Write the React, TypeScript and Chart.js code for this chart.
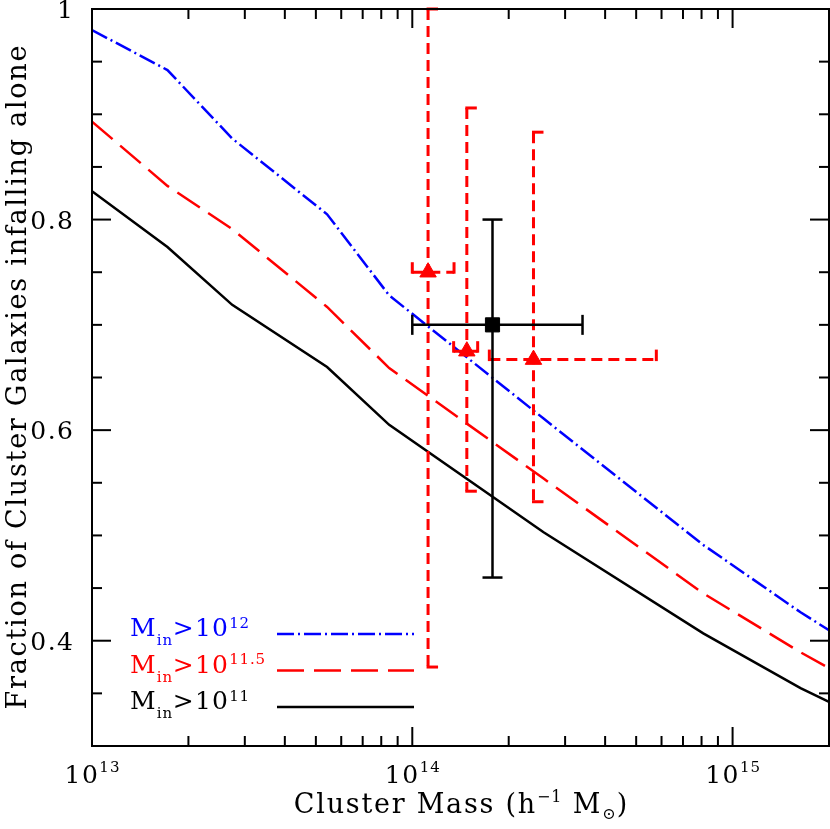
import React, { useEffect, useRef } from 'react';
import { Chart, registerables } from 'chart.js';

Chart.register(...registerables);

// ---------- data ----------
const massGrid = [1e13, 1.72e13, 2.74e13, 5.42e13, 8.47e13, 2.57e14, 8.1e14, 1.63e15, 2e15];
const fracMinIn12 = [0.98, 0.942, 0.877, 0.805, 0.728, 0.611, 0.491, 0.427, 0.41];
const fracMinIn115 = [0.893, 0.832, 0.791, 0.717, 0.659, 0.554, 0.445, 0.389, 0.374];
const fracMinIn11 = [0.827, 0.774, 0.719, 0.66, 0.605, 0.503, 0.407, 0.355, 0.342];

const satMass = [1.12e14, 1.48e14, 2.39e14];
const satFrac = [0.75, 0.675, 0.667];
const satMassLo = [1.0e14, 1.346e14, 1.74e14];
const satMassHi = [1.35e14, 1.6e14, 5.78e14];
const satFracLo = [0.375, 0.542, 0.532];
const satFracHi = [1.0, 0.906, 0.883];

const obsMass = [1.78e14];
const obsFrac = [0.7];
const obsMassLo = [1.0e14];
const obsMassHi = [3.4e14];
const obsFracLo = [0.46];
const obsFracHi = [0.8];

const xRange = [1e13, 2e15];
const yRange = [0.3, 1.0];
const xTickValues = [1e13, 1e14, 1e15];
const xTickBase = ['10', '10', '10'];
const xTickExp = ['13', '14', '15'];
const yTickValues = [0.4, 0.6, 0.8, 1.0];
const yTickLabels = ['0.4', '0.6', '0.8', '1'];
const yMinorStep = 0.05;

type Kind = 'n' | 'sup' | 'sub';
type Part = [string, Kind];

const legendLabels: Part[][] = [
  [['M', 'n'], ['in', 'sub'], ['>10', 'n'], ['12', 'sup']],
  [['M', 'n'], ['in', 'sub'], ['>10', 'n'], ['11.5', 'sup']],
  [['M', 'n'], ['in', 'sub'], ['>10', 'n'], ['11', 'sup']],
];
const xTitle: Part[] = [
  ['Cluster Mass (h', 'n'], ['\u22121', 'sup'], [' M', 'n'], ['\u2299', 'sub'], [')', 'n'],
];
const yTitle = 'Fraction of Cluster Galaxies infalling alone';

// ---------- styles ----------
const BLUE = '#0000ff';
const RED = '#ff0000';
const BLACK = '#000000';
const FAMILY = '"DejaVu Serif", "DejaVu Sans", serif';

interface TextStyle { big: number; small: number; lsBig: number; lsSmall: number; supDy: number; subDy: number; }
const labelStyle: TextStyle = { big: 25, small: 15, lsBig: 1.5, lsSmall: 1, supDy: 11, subDy: 8 };
const titleStyle: TextStyle = { big: 27, small: 16, lsBig: 1.75, lsSmall: 1, supDy: 11, subDy: 6 };
const legendStyle: TextStyle = { big: 25, small: 15, lsBig: 1.2, lsSmall: 0.8, supDy: 8.5, subDy: 9 };

const legendColors = [BLUE, RED, BLACK];
const legendDash = [[17, 4, 2, 4], [27, 10], []];

function setFont(ctx: CanvasRenderingContext2D, st: TextStyle, small: boolean) {
  ctx.font = `${small ? st.small : st.big}px ${FAMILY}`;
  (ctx as any).letterSpacing = `${small ? st.lsSmall : st.lsBig}px`;
}

function richWidth(ctx: CanvasRenderingContext2D, parts: Part[], st: TextStyle) {
  let w = 0;
  parts.forEach(([t, k]) => {
    setFont(ctx, st, k !== 'n');
    w += ctx.measureText(t).width;
  });
  const last = parts[parts.length - 1];
  return w - (last[1] === 'n' ? st.lsBig : st.lsSmall);
}

function drawRich(
  ctx: CanvasRenderingContext2D,
  parts: Part[],
  x: number,
  y: number,
  align: 'left' | 'center',
  st: TextStyle
) {
  let cx = align === 'center' ? x - richWidth(ctx, parts, st) / 2 : x;
  ctx.textAlign = 'left';
  ctx.textBaseline = 'alphabetic';
  parts.forEach(([t, k]) => {
    setFont(ctx, st, k !== 'n');
    const dy = k === 'sup' ? -st.supDy : k === 'sub' ? st.subDy : 0;
    ctx.fillText(t, cx, y + dy);
    cx += ctx.measureText(t).width;
  });
}

function strokeSeg(ctx: CanvasRenderingContext2D, x1: number, y1: number, x2: number, y2: number) {
  ctx.beginPath();
  ctx.moveTo(x1, y1);
  ctx.lineTo(x2, y2);
  ctx.stroke();
}

function drawErrorBars(
  chart: any,
  xs: number[], ys: number[], xlo: number[], xhi: number[], ylo: number[], yhi: number[],
  color: string, width: number, dash: number[], halfCaps: boolean
) {
  const { ctx, scales } = chart;
  const sx = scales.x;
  const sy = scales.y;
  const cap = 10;
  ctx.save();
  ctx.strokeStyle = color;
  ctx.lineWidth = width;
  ctx.lineCap = 'butt';
  for (let i = 0; i < xs.length; i++) {
    const px = sx.getPixelForValue(xs[i]);
    const py = sy.getPixelForValue(ys[i]);
    const pxl = sx.getPixelForValue(xlo[i]);
    const pxh = sx.getPixelForValue(xhi[i]);
    const pyl = sy.getPixelForValue(ylo[i]);
    const pyh = sy.getPixelForValue(yhi[i]);
    ctx.setLineDash(dash);
    strokeSeg(ctx, pxl, py, pxh, py);
    strokeSeg(ctx, px, pyh, px, pyl);
    ctx.setLineDash([]);
    if (halfCaps) {
      strokeSeg(ctx, pxl, py + width / 2, pxl, py - cap);
      strokeSeg(ctx, pxh, py + width / 2, pxh, py - cap);
      strokeSeg(ctx, px - width / 2, pyh, px + cap, pyh);
      strokeSeg(ctx, px - width / 2, pyl, px + cap, pyl);
    } else {
      strokeSeg(ctx, pxl, py - cap, pxl, py + cap);
      strokeSeg(ctx, pxh, py - cap, pxh, py + cap);
      strokeSeg(ctx, px - cap, pyh, px + cap, pyh);
      strokeSeg(ctx, px - cap, pyl, px + cap, pyl);
    }
  }
  ctx.restore();
}

const errorBarPlugin = {
  id: 'errorBars',
  beforeDatasetDraw(chart: any, args: any) {
    const ds = chart.data.datasets[args.index];
    if (ds.label === 'sat') {
      drawErrorBars(chart, satMass, satFrac, satMassLo, satMassHi, satFracLo, satFracHi, RED, 3, [11, 6], true);
    } else if (ds.label === 'obs') {
      drawErrorBars(chart, obsMass, obsFrac, obsMassLo, obsMassHi, obsFracLo, obsFracHi, BLACK, 2.5, [], false);
    }
  },
};

const framePlugin = {
  id: 'frame',
  afterDraw(chart: any) {
    const { ctx, chartArea: a, scales } = chart;
    const sx = scales.x;
    const sy = scales.y;
    ctx.save();
    ctx.strokeStyle = BLACK;
    ctx.fillStyle = BLACK;
    ctx.lineWidth = 2;
    ctx.setLineDash([]);
    ctx.strokeRect(a.left, a.top, a.right - a.left, a.bottom - a.top);

    // y ticks (inward, both sides)
    const nSteps = Math.round((yRange[1] - yRange[0]) / yMinorStep);
    for (let i = 0; i <= nSteps; i++) {
      const v = yRange[0] + i * yMinorStep;
      const major = yTickValues.some((t) => Math.abs(t - v) < 1e-6);
      const len = major ? 19 : 10;
      const py = sy.getPixelForValue(v);
      strokeSeg(ctx, a.left, py, a.left + len, py);
      strokeSeg(ctx, a.right, py, a.right - len, py);
    }
    // x ticks (inward, both sides)
    const d0 = Math.floor(Math.log10(xRange[0]));
    const d1 = Math.ceil(Math.log10(xRange[1]));
    for (let d = d0; d <= d1; d++) {
      for (let m = 1; m <= 9; m++) {
        const v = m * Math.pow(10, d);
        if (v < xRange[0] * 0.999 || v > xRange[1] * 1.001) continue;
        const len = m === 1 ? 19 : 10;
        const px = sx.getPixelForValue(v);
        strokeSeg(ctx, px, a.bottom, px, a.bottom - len);
        strokeSeg(ctx, px, a.top, px, a.top + len);
      }
    }

    // y tick labels
    yTickValues.forEach((v, i) => {
      const py = sy.getPixelForValue(v);
      const w = richWidth(ctx, [[yTickLabels[i], 'n']], labelStyle);
      drawRich(ctx, [[yTickLabels[i], 'n']], a.left - 19 - w, py + 9, 'left', labelStyle);
    });
    // x tick labels
    xTickValues.forEach((v, i) => {
      const px = sx.getPixelForValue(v);
      drawRich(ctx, [[xTickBase[i], 'n'], [xTickExp[i], 'sup']], px, a.bottom + 37, 'center', labelStyle);
    });

    // axis titles
    drawRich(ctx, xTitle, (a.left + a.right) / 2, a.bottom + 67, 'center', titleStyle);
    ctx.save();
    ctx.translate(26, (a.top + a.bottom) / 2);
    ctx.rotate(-Math.PI / 2);
    drawRich(ctx, [[yTitle, 'n']], 0, 0, 'center', titleStyle);
    ctx.restore();

    // legend
    const rowBase = [a.bottom - 110, a.bottom - 73.5, a.bottom - 37];
    legendLabels.forEach((parts, i) => {
      ctx.fillStyle = legendColors[i];
      drawRich(ctx, parts, a.left + 38, rowBase[i], 'left', legendStyle);
      ctx.strokeStyle = legendColors[i];
      ctx.lineWidth = 2.5;
      ctx.setLineDash(legendDash[i]);
      strokeSeg(ctx, a.left + 185, rowBase[i] - 2, a.left + 322, rowBase[i] - 2);
      ctx.setLineDash([]);
    });
    ctx.restore();
  },
};

function pts(xs: number[], ys: number[]) {
  return xs.map((x, i) => ({ x, y: ys[i] }));
}

export default function App() {
  const ref = useRef<HTMLCanvasElement>(null);
  useEffect(() => {
    document.body.style.margin = '0';
    document.body.style.overflow = 'hidden';
    const canvas = ref.current!;
    const chart = new Chart(canvas, {
      type: 'scatter',
      data: {
        datasets: [
          {
            label: 'Min>1e12',
            data: pts(massGrid, fracMinIn12),
            showLine: true,
            borderColor: BLUE,
            borderWidth: 2.5,
            borderDash: [17, 4, 2, 4],
            pointRadius: 0,
            fill: false,
            order: 10,
          } as any,
          {
            label: 'Min>1e11.5',
            data: pts(massGrid, fracMinIn115),
            showLine: true,
            borderColor: RED,
            borderWidth: 2.5,
            borderDash: [27, 10],
            pointRadius: 0,
            fill: false,
            order: 9,
          },
          {
            label: 'Min>1e11',
            data: pts(massGrid, fracMinIn11),
            showLine: true,
            borderColor: BLACK,
            borderWidth: 2.5,
            pointRadius: 0,
            fill: false,
            order: 8,
          },
          {
            label: 'sat',
            data: pts(satMass, satFrac),
            pointStyle: 'triangle',
            pointRadius: 9.5,
            backgroundColor: RED,
            borderColor: RED,
            borderWidth: 1,
            order: 2,
          },
          {
            label: 'obs',
            data: pts(obsMass, obsFrac),
            pointStyle: 'rect',
            pointRadius: 10,
            backgroundColor: BLACK,
            borderColor: BLACK,
            borderWidth: 1,
            order: 1,
          },
        ],
      },
      options: {
        responsive: false,
        animation: false,
        devicePixelRatio: 1,
        events: [],
        layout: { autoPadding: false, padding: { left: 92, top: 9, right: 1, bottom: 83 } },
        plugins: { legend: { display: false }, tooltip: { enabled: false } },
        scales: {
          x: { type: 'logarithmic', min: xRange[0], max: xRange[1], display: false },
          y: { type: 'linear', min: yRange[0], max: yRange[1], display: false },
        },
      },
      plugins: [errorBarPlugin, framePlugin],
    });
    return () => chart.destroy();
  }, []);
  return <canvas ref={ref} width={830} height={829} style={{ display: 'block', width: 830, height: 829 }} />;
}
